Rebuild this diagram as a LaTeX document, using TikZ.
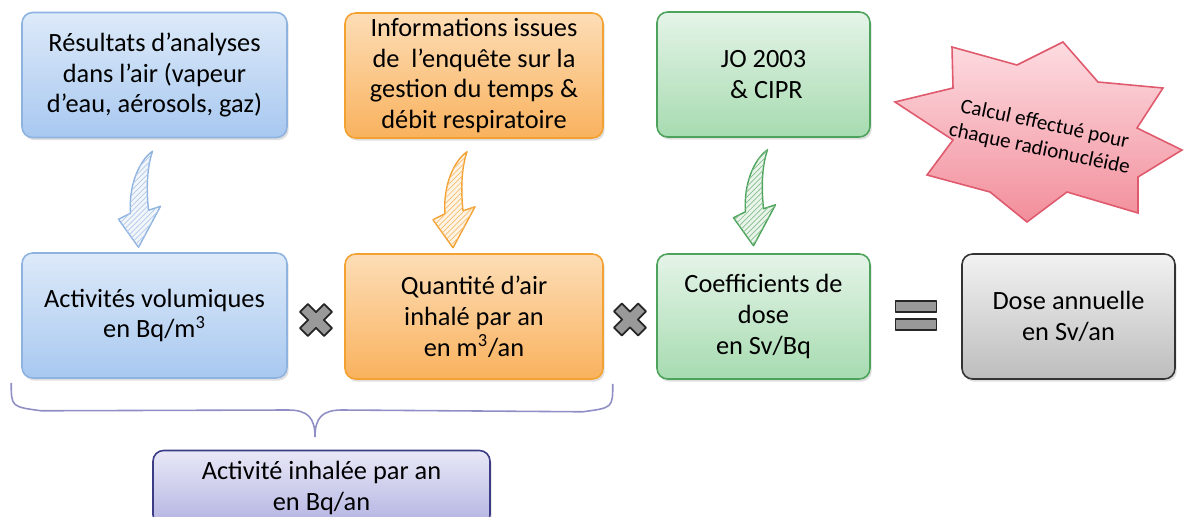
\documentclass[tikz,border=0pt]{standalone}
\usepackage{fontspec}
\setmainfont{Carlito}
\usetikzlibrary{positioning, calc, shadows, patterns}

\definecolor{bleuL}{HTML}{DDEAF9}
\definecolor{bleuD}{HTML}{A8C8F0}
\definecolor{bleuB}{HTML}{8FB3E0}
\definecolor{orangeL}{HTML}{FDDDB6}
\definecolor{orangeD}{HTML}{F9B25E}
\definecolor{orangeB}{HTML}{F3A232}
\definecolor{vertL}{HTML}{E5F4E8}
\definecolor{vertD}{HTML}{A6DBB0}
\definecolor{vertB}{HTML}{4EA35C}
\definecolor{grisL}{HTML}{F2F2F2}
\definecolor{grisD}{HTML}{BDBDBD}
\definecolor{violetL}{HTML}{E8E8F7}
\definecolor{violetD}{HTML}{B3B3E2}
\definecolor{violetB}{HTML}{3B3B86}
\definecolor{rougeL}{HTML}{FDDCE1}
\definecolor{rougeD}{HTML}{F28E9B}
\definecolor{rougeB}{HTML}{DE5A6C}

% curved hand-drawn arrow, tail at #1
\newcommand{\flechecourbe}[2]{%
  \draw[#2, thick, line join=round, fill=#2!12,
        postaction={pattern=north east lines, pattern color=#2!70}, shift={#1}]
    (0,0) .. controls (-14,10) and (-24,35) .. (-22,62) -- (-34,68) -- (-14,96)
    -- (8,55) -- (-4,59) .. controls (-7,30) and (-4,12) .. cycle;}

\begin{document}
\begin{tikzpicture}[x=0.02cm, y=-0.02cm,
  boite/.style={rounded corners=6pt, align=center, line width=0.9pt,
                minimum height=2.5cm, inner sep=2pt,
                font=\fontsize{15}{17.6}\selectfont,
                drop shadow={shadow xshift=1pt, shadow yshift=-1.5pt, opacity=0.25}},
  bleu/.style={boite, draw=bleuB, top color=bleuL, bottom color=bleuD, minimum width=5.3cm},
  orange/.style={boite, draw=orangeB, top color=orangeL, bottom color=orangeD, minimum width=5.16cm},
  vert/.style={boite, draw=vertB, top color=vertL, bottom color=vertD, minimum width=4.26cm},
  gris/.style={boite, draw=black!80, top color=grisL, bottom color=grisD, minimum width=4.26cm},
  violet/.style={boite, draw=violetB, top color=violetL, bottom color=violetD,
                 minimum width=6.74cm, minimum height=1.5cm},
  signe/.style={draw=black!85, fill=black!40, line width=1pt, line join=round}]
  \useasboundingbox (0,0) rectangle (1184,517);

  % Sources
  \node[bleu] (resultats) at (154.5,75) {Résultats d’analyses\\dans l’air (vapeur\\d’eau, aérosols, gaz)};
  \node[orange] (enquete) at (474,75.5) {Informations issues\\de~ l’enquête sur la\\gestion du temps \&\\débit respiratoire};
  \node[vert] (jo) at (763.5,74.5) {JO 2003\\\ \& CIPR};

  % Terms of the product
  \node[bleu] (actvol) at (154.5,315.5) {Activités volumiques\\en Bq/m\textsuperscript{3}};
  \node[orange] (quantite) at (474,316.5) {Quantité d’air\\inhalé par an\\en m\textsuperscript{3}/an};
  \node[vert] (coeff) at (763.5,316.5) {Coefficients de\\dose\\en Sv/Bq};
  \node[gris] (dose) at (1068.5,316.5) {Dose annuelle\\en Sv/an};
  \node[violet] (inhalee) at (321.5,488) {Activité inhalée par an\\en Bq/an};

  % Curved arrows
  \flechecourbe{($(resultats.south)+(-2,13)$)}{bleuB}
  \flechecourbe{($(enquete.south)+(-7,13)$)}{orangeB}
  \flechecourbe{($(jo.south)+(4,12)$)}{vertB}

  % Times and equals
  \coordinate (fois1) at ($(actvol.east)!0.5!(quantite.west)+(0,4)$);
  \coordinate (fois2) at ($(quantite.east)!0.5!(coeff.west)+(0,3)$);
  \foreach \c in {fois1, fois2}
    \draw[signe, shift={(\c)}, rotate=45]
      (5.5,17) -- (-5.5,17) -- (-5.5,5.5) -- (-17,5.5) -- (-17,-5.5) -- (-5.5,-5.5)
      -- (-5.5,-17) -- (5.5,-17) -- (5.5,-5.5) -- (17,-5.5) -- (17,5.5) -- (5.5,5.5) -- cycle;
  \coordinate (egal) at ($(coeff.east)!0.5!(dose.west)+(0,-0.5)$);
  \draw[signe, shift={(egal)}] (-20.5,-15) rectangle (20.5,-4);
  \draw[signe, shift={(egal)}] (-20.5,3) rectangle (20.5,14);

  % Brace under the first two terms
  \coordinate (acc1) at ($(actvol.south west)+(-10,4)$);
  \coordinate (acc2) at ($(quantite.south east)+(9,4)$);
  \draw[violetD!70!violetB, line width=0.9pt]
    (acc1) .. controls ($(acc1)+(0,24)$) .. ($(acc1)+(30,28)$) -- (288,410)
    .. controls (308,410) and (315,418) .. (315,437)
    .. controls (315,418) and (322,410) .. (342,410) -- ($(acc2)+(-30,28)$)
    .. controls ($(acc2)+(0,24)$) .. (acc2);

  % Star
  \draw[rougeB, line width=0.9pt, line join=miter, top color=rougeL, bottom color=rougeD]
    (895,102) -- (953,88) -- (952,47) -- (1017,65) -- (1063,42) -- (1098,82)
    -- (1163,88) -- (1137,128) -- (1182,150) -- (1138,177) -- (1138,213)
    -- (1067,192) -- (1027,222) -- (990,192) -- (927,175) -- (953,140) -- cycle;
  \node[rotate=-12, align=center, font=\fontsize{12}{14.5}\selectfont] (calcul) at (1042,137)
    {Calcul effectué pour\\chaque radionucléide};
\end{tikzpicture}
\end{document}
